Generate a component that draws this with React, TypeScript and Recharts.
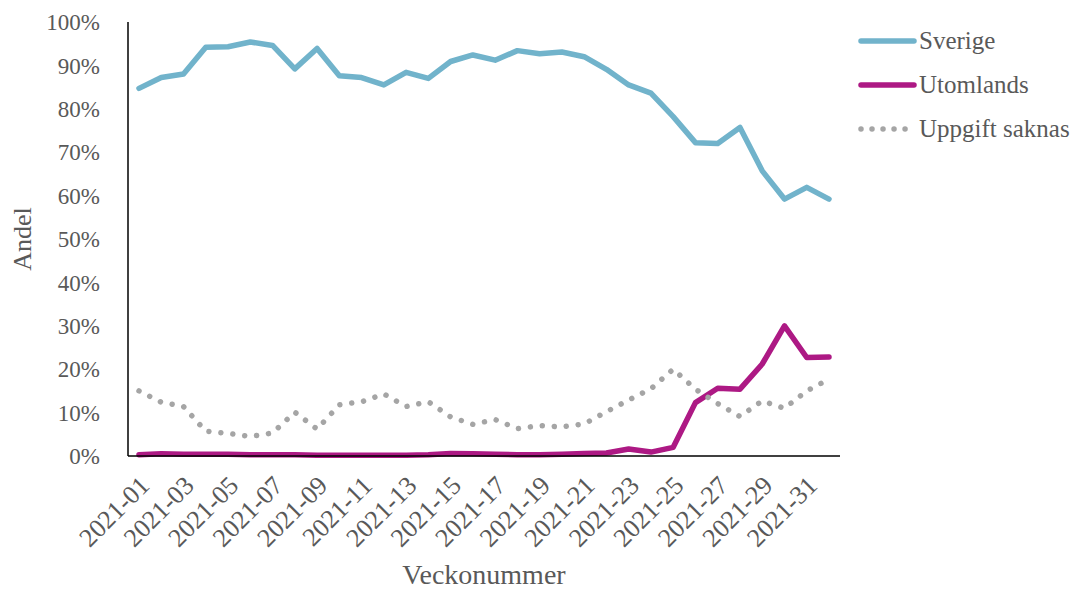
import React from 'react'
import { LineChart, Line, XAxis, YAxis } from 'recharts'

// veckor 2021-01 .. 2021-32
const weeks = Array.from({ length: 32 }, (_, i) => `2021-${String(i + 1).padStart(2, '0')}`)

// andelar (0-1)
const sverige = [
  0.847, 0.872, 0.88, 0.942, 0.943, 0.954, 0.946, 0.892, 0.939, 0.876,
  0.872, 0.855, 0.884, 0.87, 0.909, 0.924, 0.912, 0.934, 0.927, 0.931,
  0.92, 0.891, 0.855, 0.836, 0.782, 0.722, 0.72, 0.757, 0.657, 0.592,
  0.619, 0.592,
]
const utomlands = [
  0.003, 0.005, 0.004, 0.004, 0.004, 0.003, 0.003, 0.003, 0.002, 0.002,
  0.002, 0.002, 0.002, 0.003, 0.006, 0.005, 0.004, 0.003, 0.003, 0.004,
  0.006, 0.007, 0.016, 0.009, 0.02, 0.123, 0.156, 0.154, 0.212, 0.3,
  0.227, 0.228,
]
const uppgiftSaknas = [
  0.15, 0.124, 0.114, 0.057, 0.052, 0.045, 0.053, 0.101, 0.062, 0.118,
  0.125, 0.143, 0.114, 0.125, 0.09, 0.073, 0.084, 0.063, 0.07, 0.067,
  0.074, 0.102, 0.129, 0.155, 0.2, 0.154, 0.121, 0.091, 0.127, 0.11,
  0.15, 0.177,
]

const yTicks = [0, 0.1, 0.2, 0.3, 0.4, 0.5, 0.6, 0.7, 0.8, 0.9, 1]

const series = [
  { key: 'sverige', name: 'Sverige', color: '#71b3cb', dash: undefined as string | undefined },
  { key: 'utomlands', name: 'Utomlands', color: '#ad1984', dash: undefined as string | undefined },
  { key: 'saknas', name: 'Uppgift saknas', color: '#a5a5a5', dash: '0.01 12' },
]

const data = weeks.map((w, i) => ({
  week: w,
  sverige: sverige[i],
  utomlands: utomlands[i],
  saknas: uppgiftSaknas[i],
}))

const font = '"Liberation Serif", "Times New Roman", serif'
const textColor = '#595959'

const WeekTick = ({ x, y, payload }: any) => (
  <g transform={`translate(${x + 12},${y + 29}) rotate(-45)`}>
    <text x={0} y={0} textAnchor="end" fill={textColor} fontSize={26} fontFamily={font}>
      {payload.value}
    </text>
  </g>
)

export default function App() {
  return (
    <div style={{ position: 'fixed', left: 0, top: 0, width: 1073, height: 590, background: '#fff' }}>
      <LineChart width={1073} height={590} data={data} margin={{ top: 22, right: 233, left: 0, bottom: 0 }}>
        <XAxis
          dataKey="week"
          interval={1}
          padding={{ left: 11, right: 11 }}
          tick={<WeekTick />}
          tickLine={false}
          tickSize={0}
          height={134}
          axisLine={{ stroke: '#000', strokeWidth: 1.5 }}
          label={{
            value: 'Veckonummer',
            position: 'insideBottom',
            offset: 6,
            style: { fill: textColor, fontSize: 28, fontFamily: font },
          }}
        />
        <YAxis
          domain={[0, 1]}
          ticks={yTicks}
          tickFormatter={(v: number) => `${Math.round(v * 100)}%`}
          width={128}
          tickLine={false}
          tickSize={0}
          tickMargin={28}
          axisLine={{ stroke: '#000', strokeWidth: 1.5 }}
          tick={{ fill: textColor, fontSize: 23, fontFamily: font }}
          label={{
            value: 'Andel',
            angle: -90,
            position: 'insideLeft',
            offset: 22,
            style: { fill: textColor, fontSize: 26, fontFamily: font, textAnchor: 'middle' },
          }}
        />
        {series.map(s => (
          <Line
            key={s.key}
            dataKey={s.key}
            name={s.name}
            stroke={s.color}
            strokeWidth={5.5}
            strokeDasharray={s.dash}
            strokeLinecap="round"
            strokeLinejoin="round"
            dot={false}
            activeDot={false}
            isAnimationActive={false}
          />
        ))}
      </LineChart>

      {/* Legend */}
      <div style={{ position: 'absolute', left: 858, top: 19, fontFamily: font, fontSize: 25, color: textColor }}>
        {series.map(s => (
          <div key={s.key} style={{ display: 'flex', alignItems: 'center', height: 44 }}>
            <svg width={61} height={10}>
              <line
                x1={3}
                x2={56}
                y1={5}
                y2={5}
                stroke={s.color}
                strokeWidth={5.5}
                strokeLinecap="round"
                strokeDasharray={s.dash ? '0.01 11' : undefined}
              />
            </svg>
            <span style={{ lineHeight: '30px', whiteSpace: 'nowrap' }}>{s.name}</span>
          </div>
        ))}
      </div>
    </div>
  )
}
